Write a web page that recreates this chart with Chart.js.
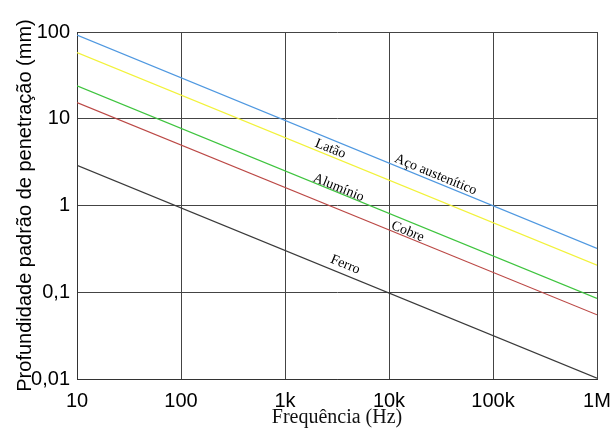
<!DOCTYPE html>
<html>
<head>
    <title>Profundidade padrão de penetração</title>
    <script src="https://cdn.jsdelivr.net/npm/chart.js"></script>
    <style>
        html, body { margin: 0; padding: 0; background: #fff; }
        .chart-container { width: 613px; height: 442px; position: relative; }
    </style>
</head>
<body>
    <div class="chart-container">
        <canvas id="skinChart"></canvas>
    </div>

    <script>
        // values (mm), at 10 Hz and 1 MHz
        const frequencies = [10, 1000000];
        const acoAustenitico = [92, 0.32];
        const latao = [58, 0.205];
        const aluminio = [24, 0.085];
        const cobre = [15.4, 0.055];
        const ferro = [2.9, 0.0102];

        const seriesNames = ['Aço austenítico', 'Latão', 'Alumínio', 'Cobre', 'Ferro'];
        const seriesValues = [acoAustenitico, latao, aluminio, cobre, ferro];
        const seriesColors = ['#4f98e0', '#f2f23a', '#3ec43e', '#bb4845', '#3a3a3a'];

        const xTickValues = [10, 100, 1000, 10000, 100000, 1000000];
        const xTickLabels = ['10', '100', '1k', '10k', '100k', '1M'];
        const yTickValues = [0.01, 0.1, 1, 10, 100];
        const yTickLabels = ['0,01', '0,1', '1', '10', '100'];

        // where each curve name sits (frequency, depth)
        const labelFreq = [28100, 2735, 3270, 15100, 3800];
        const labelDepth = [2.26, 4.5, 1.6, 0.5, 0.208];

        const datasets = seriesNames.map((name, i) => ({
            label: name,
            data: frequencies.map((f, j) => ({ x: f, y: seriesValues[i][j] })),
            borderColor: seriesColors[i],
            backgroundColor: seriesColors[i],
            borderWidth: 1.2,
            pointRadius: 0,
            showLine: true,
            fill: false
        }));

        // writes the material names along the lines
        const curveLabels = {
            id: 'curveLabels',
            afterDatasetsDraw(chart) {
                const ctx = chart.ctx;
                const xs = chart.scales.x, ys = chart.scales.y;
                ctx.save();
                ctx.fillStyle = '#000';
                ctx.font = '14px "Liberation Serif", "Times New Roman", serif';
                ctx.textAlign = 'center';
                ctx.textBaseline = 'middle';
                seriesNames.forEach((name, i) => {
                    const v = seriesValues[i];
                    const dx = xs.getPixelForValue(frequencies[1]) - xs.getPixelForValue(frequencies[0]);
                    const dy = ys.getPixelForValue(v[1]) - ys.getPixelForValue(v[0]);
                    ctx.save();
                    ctx.translate(xs.getPixelForValue(labelFreq[i]), ys.getPixelForValue(labelDepth[i]));
                    ctx.rotate(Math.atan2(dy, dx));
                    ctx.fillText(name, 0, 0);
                    ctx.restore();
                });
                ctx.restore();
            }
        };

        const ctx = document.getElementById('skinChart').getContext('2d');
        new Chart(ctx, {
            type: 'scatter',
            data: { datasets },
            options: {
                responsive: true,
                maintainAspectRatio: false,
                animation: false,
                layout: { padding: { top: 32, right: 16, left: 0, bottom: 0 } },
                plugins: {
                    legend: { display: false },
                    tooltip: { enabled: false }
                },
                scales: {
                    x: {
                        type: 'logarithmic',
                        min: 10,
                        max: 1000000,
                        afterBuildTicks: (scale) => { scale.ticks = xTickValues.map(v => ({ value: v })); },
                        afterFit: (scale) => {
                            scale.height = 63;
                            scale.paddingLeft = 0;
                            scale.paddingRight = 0;
                        },
                        ticks: {
                            color: '#000',
                            font: { family: '"Liberation Sans", Arial, sans-serif', size: 20 },
                            padding: 10,
                            maxRotation: 0,
                            callback: (value) => {
                                const k = xTickValues.indexOf(value);
                                return k >= 0 ? xTickLabels[k] : '';
                            }
                        },
                        grid: { color: '#444', lineWidth: 1, drawTicks: false },
                        border: { color: '#333', width: 1 },
                        title: {
                            display: true,
                            text: 'Frequência (Hz)',
                            color: '#111',
                            font: { family: '"Liberation Serif", "Times New Roman", serif', size: 20 },
                            padding: { top: 0, bottom: 12 }
                        }
                    },
                    y: {
                        type: 'logarithmic',
                        min: 0.01,
                        max: 100,
                        afterBuildTicks: (scale) => { scale.ticks = yTickValues.map(v => ({ value: v })); },
                        afterFit: (scale) => { scale.width = 77; },
                        ticks: {
                            color: '#000',
                            font: { family: '"Liberation Sans", Arial, sans-serif', size: 20 },
                            padding: 7,
                            callback: (value) => {
                                const k = yTickValues.indexOf(value);
                                return k >= 0 ? yTickLabels[k] : '';
                            }
                        },
                        grid: { color: '#444', lineWidth: 1, drawTicks: false },
                        border: { color: '#333', width: 1 },
                        title: {
                            display: true,
                            text: 'Profundidade padrão de penetração (mm)',
                            color: '#000',
                            font: { family: '"Liberation Sans", Arial, sans-serif', size: 20 },
                            padding: { top: 13, bottom: 0 }
                        }
                    }
                }
            },
            plugins: [curveLabels]
        });
    </script>
</body>
</html>
